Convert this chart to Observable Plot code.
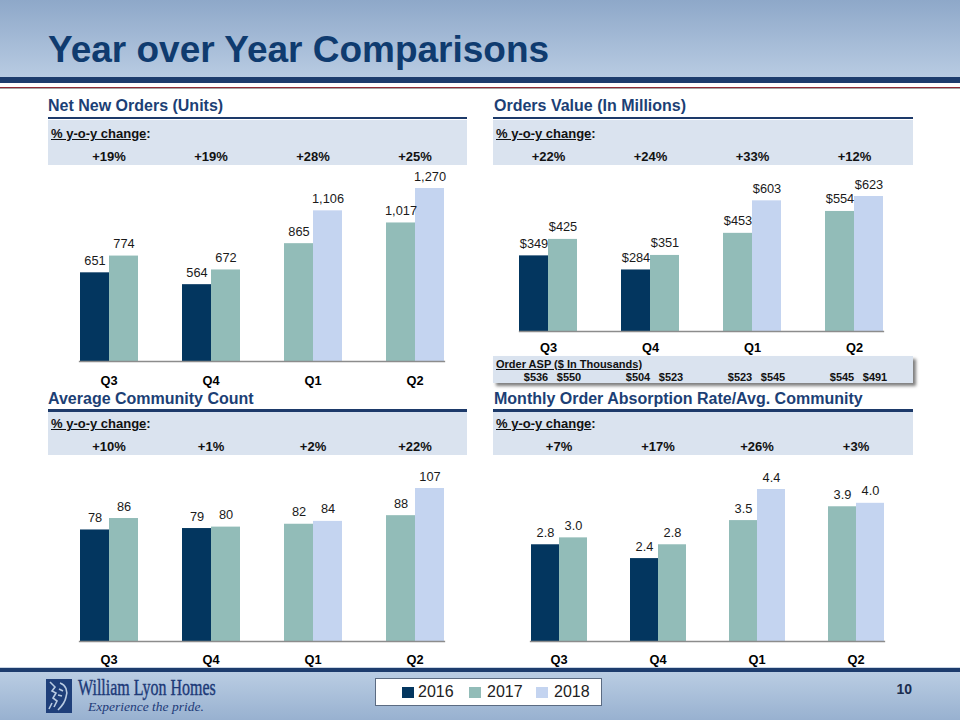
<!DOCTYPE html>
<html>
<head>
<meta charset="utf-8">
<script src="https://cdn.jsdelivr.net/npm/d3@7"></script>
<script src="https://cdn.jsdelivr.net/npm/@observablehq/plot@0.6"></script>
<style>
  html, body { margin: 0; padding: 0; background: #fff; }
  #page { position: relative; width: 960px; height: 720px; overflow: hidden; background: #fff; font-family: "Liberation Sans", Arial, sans-serif; }
  .abs { position: absolute; }
  .ttl { position: absolute; font-weight: bold; font-size: 16px; line-height: 1; color: #1c3f75; white-space: nowrap; }
  .rule { position: absolute; height: 2.6px; background: #1d3a6a; }
  .band { position: absolute; background: #dae3ef; }
  .chg { position: absolute; font-weight: bold; font-size: 13px; line-height: 1; color: #111; white-space: nowrap; }
  .chart { position: absolute; }
  .leg { position: absolute; font-size: 16px; line-height: 1; color: #222; }
  .sq { position: absolute; width: 12px; height: 11px; }
</style>
</head>
<body>
<div id="page">
  <!-- header -->
  <div class="abs" style="left:0;top:0;width:960px;height:77px;background:linear-gradient(#8ea8c9,#b8cbe2);"></div>
  <div class="abs" style="left:0;top:77px;width:960px;height:6px;background:#1d3c6d;"></div>
  <div class="abs" style="left:0;top:86.5px;width:960px;height:1.5px;background:#8e2b35;"></div>
  <div class="abs" style="left:0;top:88px;width:960px;height:1px;background:#a5a5a5;"></div>
  <div class="abs" id="title" style="left:48px;top:30.5px;font-size:37px;font-weight:bold;line-height:1;color:#0f3b6f;white-space:nowrap;"></div>

  <!-- panel titles, rules, bands -->
  <div class="ttl" id="t1" style="left:48px;top:97.5px;"></div>
  <div class="ttl" id="t2" style="left:494px;top:97.5px;"></div>
  <div class="ttl" id="t3" style="left:48px;top:390.5px;"></div>
  <div class="ttl" id="t4" style="left:494px;top:390.5px;"></div>

  <div class="rule" style="left:48px;top:116.7px;width:419px;"></div>
  <div class="rule" style="left:493px;top:116.7px;width:420px;"></div>
  <div class="rule" style="left:48px;top:409px;width:419px;"></div>
  <div class="rule" style="left:493px;top:409px;width:420px;"></div>

  <div class="band" style="left:48px;top:120px;width:419px;height:45px;"></div>
  <div class="band" style="left:493px;top:120px;width:420px;height:45px;"></div>
  <div class="band" style="left:48px;top:412px;width:419px;height:43px;"></div>
  <div class="band" style="left:493px;top:412px;width:420px;height:43px;"></div>

  <div class="chg" style="left:51px;top:126.6px;"><u>% y-o-y change</u>:</div>
  <div class="chg" style="left:496px;top:126.6px;"><u>% y-o-y change</u>:</div>
  <div class="chg" style="left:51px;top:417px;"><u>% y-o-y change</u>:</div>
  <div class="chg" style="left:496px;top:417px;"><u>% y-o-y change</u>:</div>

  <!-- ASP box -->
  <div class="abs" style="left:493px;top:356px;width:420px;height:27px;background:#dae3ef;box-shadow:3px 3px 3px #7f7f7f;"></div>
  <div class="abs" id="aspTitle" style="left:496px;top:358.7px;font-size:11px;font-weight:bold;line-height:1;color:#111;white-space:nowrap;text-decoration:underline;"></div>

  <!-- footer -->
  <div class="abs" style="left:0;top:667px;width:960px;height:1px;background:#c9d5e4;"></div>
  <div class="abs" style="left:0;top:668px;width:960px;height:4px;background:#1d3c6d;"></div>
  <div class="abs" style="left:0;top:672px;width:960px;height:48px;background:linear-gradient(#bacde3,#98b1d0);"></div>

  <!-- logo -->
  <svg class="abs" style="left:46px;top:679px;" width="26" height="34" viewBox="0 0 26 34">
    <rect x="0" y="0" width="26" height="34" fill="#1f3f7a"/>
    <path d="M4 3 L9 8 L6 12 L10 14 L7 19 L11 22 L8 28 M14 4 C20 6 22 12 20 18 C19 24 15 28 12 31 M13 10 L17 12 M12 16 L16 17 M3 30 L6 24" stroke="#b9cbe2" stroke-width="1.6" fill="none"/>
  </svg>
  <div class="abs" style="left:78px;top:677px;font-family:'Liberation Serif','Times New Roman',serif;font-size:22.5px;line-height:1;color:#1d3a78;white-space:nowrap;transform:scaleX(0.71);transform-origin:0 0;-webkit-text-stroke:0.4px #1d3a78;">William Lyon Homes</div>
  <div class="abs" style="left:88px;top:700px;font-family:'Liberation Serif','Times New Roman',serif;font-style:italic;font-size:13.5px;line-height:1;color:#1d3a78;white-space:nowrap;">Experience the pride.</div>

  <!-- legend -->
  <div class="abs" style="left:375px;top:678px;width:225px;height:26px;background:#fff;border:1px solid #5b6b82;"></div>
  <div id="legend"></div>
  <div class="abs" style="left:896.5px;top:682px;font-size:14px;font-weight:bold;line-height:1;color:#1b2d4f;">10</div>

  <div id="charts"></div>
</div>
<script>
// ---------------- data ----------------
const pageTitle = "Year over Year Comparisons";
const panelTitles = ["Net New Orders (Units)", "Orders Value (In Millions)", "Average Community Count", "Monthly Order Absorption Rate/Avg. Community"];
const quarters = ["Q3", "Q4", "Q1", "Q2"];
const years = ["2016", "2017", "2018"];
const yearColors = ["#03365f", "#92bcb8", "#c4d4f0"];
const leftYears = ["2016", "2016", "2017", "2017"];
const rightYears = ["2017", "2017", "2018", "2018"];

const nnoLeft = [651, 564, 865, 1017];
const nnoRight = [774, 672, 1106, 1270];
const nnoChange = ["+19%", "+19%", "+28%", "+25%"];

const ovLeft = [349, 284, 453, 554];
const ovRight = [425, 351, 603, 623];
const ovChange = ["+22%", "+24%", "+33%", "+12%"];

const aspTitle = "Order ASP ($ In Thousands)";
const aspLeft = [536, 504, 523, 545];
const aspRight = [550, 523, 545, 491];

const accLeft = [78, 79, 82, 88];
const accRight = [86, 80, 84, 107];
const accChange = ["+10%", "+1%", "+2%", "+22%"];

const absLeft = [2.8, 2.4, 3.5, 3.9];
const absRight = [3.0, 2.8, 4.4, 4.0];
const absChange = ["+7%", "+17%", "+26%", "+3%"];

// ---------------- helpers ----------------
document.getElementById("title").textContent = pageTitle;
["t1", "t2", "t3", "t4"].forEach((id, i) => document.getElementById(id).textContent = panelTitles[i]);
document.getElementById("aspTitle").textContent = aspTitle;

function rowsOf(left, right) {
  const rows = [];
  quarters.forEach((q, i) => {
    rows.push({quarter: q, slot: "L", year: leftYears[i], value: left[i]});
    rows.push({quarter: q, slot: "R", year: rightYears[i], value: right[i]});
  });
  return rows;
}

function makeChart(cfg) {
  const rows = rowsOf(cfg.left, cfg.right);
  const changes = quarters.map((q, i) => ({quarter: q, text: cfg.change[i]}));
  const marks = [
    Plot.barY(rows, {fx: "quarter", x: "slot", y: "value", fill: "year"}),
    Plot.text(rows, {fx: "quarter", x: "slot", y: "value", text: d => cfg.fmt(d.value),
      lineAnchor: "bottom", dy: -8, fontSize: 12.8, fill: "#1a1a1a"}),
    Plot.text(changes, {fx: "quarter", text: "text", frameAnchor: "top", dy: cfg.changeDy,
      lineAnchor: "middle", fontWeight: "bold", fontSize: 13, fill: "#111"}),
    Plot.axisFx({anchor: "bottom", tickSize: 0, tickPadding: cfg.tickPadding, fontWeight: "bold",
      fontSize: 12.8, label: null, fill: "#000"}),
    Plot.frame({anchor: "bottom", facet: "super", stroke: "#8c8c8c", strokeWidth: 1.3})
  ];
  if (cfg.extra) marks.push(...cfg.extra);
  const svg = Plot.plot({
    width: cfg.width, height: cfg.height,
    marginLeft: cfg.ml, marginRight: cfg.mr, marginTop: cfg.mt, marginBottom: cfg.mb,
    fx: {domain: quarters, paddingInner: cfg.pi, paddingOuter: cfg.po, label: null},
    x: {domain: ["L", "R"], padding: 0, axis: null},
    y: {domain: [0, cfg.max], axis: null},
    color: {domain: years, range: yearColors},
    style: {background: "transparent", fontFamily: "'Liberation Sans', Arial, sans-serif", overflow: "visible", color: "#000"},
    marks
  });
  const wrap = document.createElement("div");
  wrap.className = "chart";
  wrap.style.left = cfg.left0 + "px";
  wrap.style.top = cfg.top0 + "px";
  wrap.appendChild(svg);
  document.getElementById("charts").appendChild(wrap);
}

// ASP rows for the orders-value chart
const aspRows = [];
quarters.forEach((q, i) => {
  aspRows.push({quarter: q, slot: "L", asp: aspLeft[i]});
  aspRows.push({quarter: q, slot: "R", asp: aspRight[i]});
});
const aspMark = (slot, dx) => Plot.text(aspRows.filter(d => d.slot === slot), {
  fx: "quarter", x: "slot", text: d => "$" + d.asp, frameAnchor: "bottom",
  dy: 46, dx, lineAnchor: "middle", fontWeight: "bold", fontSize: 11, fill: "#111"});

makeChart({left0: 41, top0: 120, width: 427, height: 270, ml: 15, mr: 2, mt: 68, mb: 29,
  pi: 0.425, po: 0.21, max: 1270, left: nnoLeft, right: nnoRight, change: nnoChange,
  fmt: d3.format(","), changeDy: -32, tickPadding: 14.5});

makeChart({left0: 487, top0: 120, width: 428, height: 270, ml: 10, mr: 9, mt: 76, mb: 59,
  pi: 0.431, po: 0.22, max: 623, left: ovLeft, right: ovRight, change: ovChange,
  fmt: v => "$" + v, changeDy: -40, tickPadding: 11.5,
  extra: [aspMark("L", 2), aspMark("R", 6)]});

makeChart({left0: 41, top0: 412, width: 427, height: 258, ml: 15, mr: 2, mt: 76, mb: 29,
  pi: 0.425, po: 0.21, max: 107, left: accLeft, right: accRight, change: accChange,
  fmt: v => String(v), changeDy: -42, tickPadding: 13});

makeChart({left0: 487, top0: 412, width: 428, height: 258, ml: 20, mr: 9, mt: 77, mb: 29,
  pi: 0.429, po: 0.214, max: 4.4, left: absLeft, right: absRight, change: absChange,
  fmt: d3.format(".1f"), changeDy: -43, tickPadding: 13});

// legend
const legend = document.getElementById("legend");
const sqX = [402, 469, 536], txX = [418, 487, 554];
years.forEach((y, i) => {
  const s = document.createElement("div");
  s.className = "sq abs";
  s.style.left = sqX[i] + "px"; s.style.top = "687px"; s.style.background = yearColors[i];
  legend.appendChild(s);
  const t = document.createElement("div");
  t.className = "leg";
  t.style.left = txX[i] + "px"; t.style.top = "684px";
  t.textContent = y;
  legend.appendChild(t);
});
</script>
</body>
</html>
